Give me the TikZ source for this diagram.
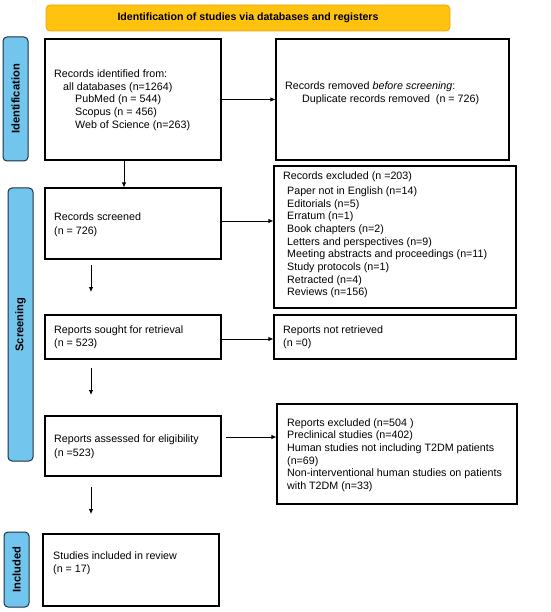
\documentclass[tikz,border=0pt]{standalone}
\usepackage{fontspec}
\setmainfont{Liberation Sans}
\usetikzlibrary{arrows.meta}
\definecolor{hdrfill}{HTML}{FFC20E}
\definecolor{hdrdraw}{HTML}{E8A317}
\definecolor{labfill}{HTML}{72C6EE}
\definecolor{labdraw}{HTML}{1E2F45}
\begin{document}
\begin{tikzpicture}[x=1pt,y=-1pt,
  box/.style={draw=black,line width=1.1pt,fill=white,inner sep=0pt},
  txt/.style={inner sep=0pt,align=left,anchor=west,font=\fontsize{10.7}{12.7}\selectfont},
  sidelab/.style={draw=labdraw,fill=labfill,line width=1pt,rounded corners=4pt,rotate=90,
    minimum height=25pt,inner sep=0pt,font=\bfseries\fontsize{11.2}{12}\selectfont},
  hdr/.style={draw=hdrdraw,fill=hdrfill,line width=0.8pt,rounded corners=4pt,
    minimum width=404pt,minimum height=26pt,inner sep=0pt,font=\bfseries\fontsize{10.6}{12}\selectfont},
  arr/.style={draw=black,line width=0.8pt,-{Latex[length=5pt,width=4.5pt]}}]
\useasboundingbox (0,0) rectangle (550,612);

% header
\node[hdr] (hd) at (248,18) {Identification of studies via databases and registers};

% side labels
\node[sidelab,minimum width=124pt] (lid) at (15.5,99) {Identification};
\node[sidelab,minimum width=273pt] (lsc) at (20.5,324.5) {Screening};
\node[sidelab,minimum width=75pt] (lin) at (16.5,569.5) {Included};

% boxes
\node[box,minimum width=176pt,minimum height=121pt] (b1) at (133,99.5) {};
\node[box,minimum width=233pt,minimum height=121pt] (b2) at (392.5,99.5) {};
\node[box,minimum width=176pt,minimum height=71pt] (b3) at (133,223.5) {};
\node[box,minimum width=242pt,minimum height=142pt] (b4) at (395,237) {};
\node[box,minimum width=176pt,minimum height=44pt] (b5) at (133,337) {};
\node[box,minimum width=242pt,minimum height=44pt] (b6) at (395,337) {};
\node[box,minimum width=176pt,minimum height=60pt] (b7) at (133,446) {};
\node[box,minimum width=240pt,minimum height=100pt] (b8) at (397,454) {};
\node[box,minimum width=176pt,minimum height=72pt] (b9) at (131,570) {};

% texts
\node[txt] (t1) at (54,100) {Records identified from:\\
\hspace*{9pt}all databases (n=1264)\\
\hspace*{21pt}PubMed (n = 544)\\
\hspace*{21pt}Scopus (n = 456)\\
\hspace*{21pt}Web of Science (n=263)};
\node[txt] (t2) at (285,93.5) {Records removed \textit{before screening}:\\
\hspace*{17pt}Duplicate records removed\ \ (n = 726)};
\node[txt] (t3) at (54,224.5) {Records screened\\[0.8pt](n = 726)};
\node[txt] (t4) at (283,235) {Records excluded (n =203)\\[2pt]
\hspace*{4pt}Paper not in English (n=14)\\
\hspace*{4pt}Editorials (n=5)\\
\hspace*{4pt}Erratum (n=1)\\
\hspace*{4pt}Book chapters (n=2)\\
\hspace*{4pt}Letters and perspectives (n=9)\\
\hspace*{4pt}Meeting abstracts and proceedings (n=11)\\
\hspace*{4pt}Study protocols (n=1)\\
\hspace*{4pt}Retracted (n=4)\\
\hspace*{4pt}Reviews (n=156)};
\node[txt] (t5) at (54,337.5) {Reports sought for retrieval\\(n = 523)};
\node[txt] (t6) at (283,337.5) {Reports not retrieved\\(n =0)};
\node[txt] (t7) at (54,446.5) {Reports assessed for eligibility\\[1.5pt](n =523)};
\node[txt] (t8) at (287,455) {Reports excluded (n=504 )\\
Preclinical studies (n=402)\\
Human studies not including T2DM patients\\
(n=69)\\
Non-interventional human studies on patients\\
with T2DM (n=33)};
\node[txt] (t9) at (53,563.5) {Studies included in review\\(n = 17)};

% connectors
\draw[arr] (b1.east) -- (b2.west);
\coordinate (d1) at ([xshift=-9pt]b1.south);
\draw[arr] (d1) -- (d1 |- b3.north);
\coordinate (a3) at ([yshift=2.5pt]b3.east);
\draw[arr] (a3) -- (a3 -| b4.west);
\coordinate (s1) at (91,265);
\coordinate (e1) at (91,292);
\draw[arr] (s1) -- (e1);
\coordinate (a5) at ([yshift=-2pt]b5.east);
\draw[arr] (a5) -- (a5 -| b6.west);
\coordinate (s2) at (91,368);
\coordinate (e2) at (91,395);
\draw[arr] (s2) -- (e2);
\coordinate (a7) at (226,437);
\draw[arr] (a7) -- (a7 -| b8.west);
\coordinate (s3) at (91,487);
\coordinate (e3) at (91,514);
\draw[arr] (s3) -- (e3);
\end{tikzpicture}
\end{document}
